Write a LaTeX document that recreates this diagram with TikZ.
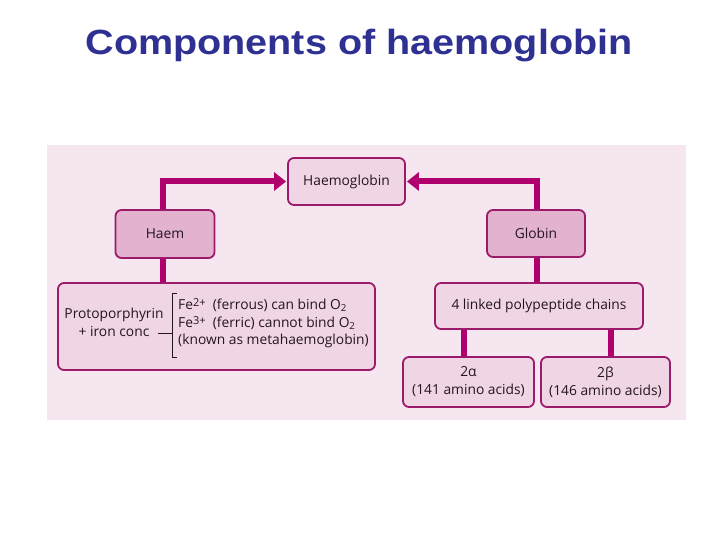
\documentclass[tikz,border=0pt]{standalone}
\usepackage{fontspec}
\setmainfont{Open Sans}
\newfontfamily\titlefont{Liberation Sans}
\usetikzlibrary{arrows.meta}
\definecolor{titleblue}{HTML}{2E3192}
\definecolor{panel}{HTML}{F6E6F0}
\definecolor{boxedge}{HTML}{9B1B6A}
\definecolor{conn}{HTML}{B0006E}
\definecolor{lightfill}{HTML}{F0D6E5}
\definecolor{darkfill}{HTML}{E3B2CE}
\definecolor{txt}{HTML}{24151F}
\pgfdeclarelayer{bglayer}
\pgfdeclarelayer{connlayer}
\pgfsetlayers{bglayer,connlayer,main}
\begin{document}
\begin{tikzpicture}[x=1pt,y=-1pt,
  box/.style={draw=boxedge, line width=1.8pt, rounded corners=6pt, fill=lightfill,
    text=txt, font=\fontsize{13.8}{18}\selectfont, align=center, inner sep=0pt},
  hbox/.style={box, fill=darkfill},
  txtnode/.style={text=txt, font=\fontsize{13.8}{18}\selectfont, inner sep=0pt},
  link/.style={draw=conn, line width=6pt},
  arr/.style={link, -{Triangle[length=12pt,width=18pt]}, shorten >=1pt},
  brack/.style={draw=txt, line width=0.8pt}]
\useasboundingbox (0,0) rectangle (720,540);
\begin{pgfonlayer}{bglayer}
\fill[white] (0,0) rectangle (720,540);
\fill[panel] (47,145) rectangle (686,420);
\end{pgfonlayer}
\node[font=\titlefont\bfseries\fontsize{35}{40}\selectfont, text=titleblue,
  anchor=base, xscale=1.13, inner sep=0pt] (title) at (359,55) {Components of haemoglobin};
\node[box, minimum width=117pt, minimum height=47pt] (hb) at (346.5,181.5) {Haemoglobin};
\node[hbox, minimum width=99pt, minimum height=48pt] (haem) at (165,234) {Haem};
\node[hbox, minimum width=98pt, minimum height=47pt] (glob) at (536,233.5) {Globin};
\node[box, minimum width=317pt, minimum height=87pt] (left) at (216.5,326.5) {};
\node[box, minimum width=208pt, minimum height=46pt] (chains) at (539,306) {4 linked polypeptide chains};
\node[box, minimum width=131pt, minimum height=50pt] (alpha) at (468.5,382) {2α\\(141 amino acids)};
\node[box, minimum width=129pt, minimum height=50pt] (beta) at (605.5,382) {2β\\(146 amino acids)};
\begin{pgfonlayer}{connlayer}
\draw[arr] ([xshift=-2pt]haem.north) |- (hb.west);
\draw[arr] ([xshift=1pt]glob.north) |- (hb.east);
\draw[link] ([xshift=-2pt]haem.south) -- ([xshift=-2pt]haem.south |- left.north);
\draw[link] ([xshift=1pt]glob.south) -- ([xshift=1pt]glob.south |- chains.north);
\draw[link] ([xshift=-5pt]alpha.north) -- ([xshift=-5pt]alpha.north |- chains.south);
\draw[link] ([xshift=5pt]beta.north) -- ([xshift=5pt]beta.north |- chains.south);
\end{pgfonlayer}
% left box contents
\node[txtnode, align=center] (proto) at (114,322) {Protoporphyrin\\+ iron conc};
\node[txtnode, anchor=west] (fe2) at (178,305) {Fe\raisebox{0.5ex}{\fontsize{11}{11}\selectfont 2+}\ \ (ferrous) can bind O\textsubscript{2}};
\node[txtnode, anchor=west] (fe3) at (178,323) {Fe\raisebox{0.5ex}{\fontsize{11}{11}\selectfont 3+}\ \ (ferric) cannot bind O\textsubscript{2}};
\node[txtnode, anchor=west] (known) at (178,341) {(known as metahaemoglobin)};
\coordinate (dashL) at (158,333);
\coordinate (brT) at (172,293);
\coordinate (brB) at (172,357);
\draw[brack] (dashL) -- (dashL -| brT);
\draw[brack] ([xshift=5pt]brT) -- (brT) -- (brB) -- ([xshift=5pt]brB);
\end{tikzpicture}
\end{document}
